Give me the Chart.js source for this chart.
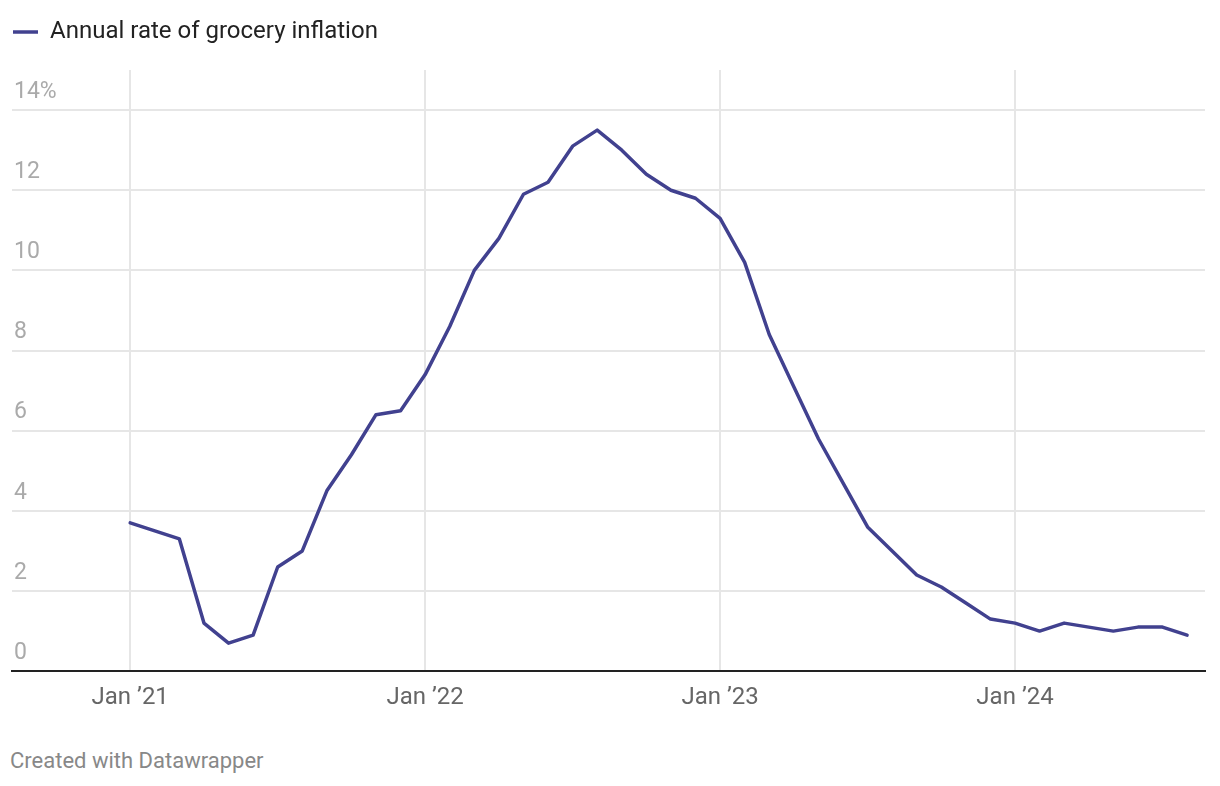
<!DOCTYPE html>
<html>
<head>
<meta charset="utf-8">
<script src="https://cdn.jsdelivr.net/npm/chart.js@4.4.1/dist/chart.umd.min.js"></script>
<style>
  body { margin: 0; background: #fff; font-family: Roboto, sans-serif; }
  #wrap { position: relative; width: 1220px; height: 732px; }
  #footer { position: absolute; left: 10px; top: 748px; font-size: 22px; color: #888; }
</style>
</head>
<body>
<div id="wrap"><canvas id="chart"></canvas></div>
<div id="footer">Created with Datawrapper</div>
<script>
// monthly observations, Jan 2021 - Aug 2024
const months = [
  '2021-01','2021-02','2021-03','2021-04','2021-05','2021-06','2021-07','2021-08','2021-09','2021-10','2021-11','2021-12',
  '2022-01','2022-02','2022-03','2022-04','2022-05','2022-06','2022-07','2022-08','2022-09','2022-10','2022-11','2022-12',
  '2023-01','2023-02','2023-03','2023-04','2023-05','2023-06','2023-07','2023-08','2023-09','2023-10','2023-11','2023-12',
  '2024-01','2024-02','2024-03','2024-04','2024-05','2024-06','2024-07','2024-08'
];
const groceryInflation = [
  3.7, 3.5, 3.3, 1.2, 0.7, 0.9, 2.6, 3.0, 4.5, 5.4, 6.4, 6.5,
  7.4, 8.6, 10.0, 10.8, 11.9, 12.2, 13.1, 13.5, 13.0, 12.4, 12.0, 11.8,
  11.3, 10.2, 8.4, 7.1, 5.8, 4.7, 3.6, 3.0, 2.4, 2.1, 1.7, 1.3,
  1.2, 1.0, 1.2, 1.1, 1.0, 1.1, 1.1, 0.9
];
const xTickMonths = ['2021-01', '2022-01', '2023-01', '2024-01'];
const xTickLabels = ['Jan \u201921', 'Jan \u201922', 'Jan \u201923', 'Jan \u201924'];
const yTicks = [0, 2, 4, 6, 8, 10, 12, 14];

const lineColor = '#41418f';

// extra room between legend and plot
const legendGap = {
    id: 'legendGap',
    beforeInit(chart) {
        const origFit = chart.legend.fit;
        chart.legend.fit = function() {
            origFit.bind(chart.legend)();
            this.height += 16;
        };
    }
};

new Chart(document.getElementById('chart'), {
    type: 'line',
    data: {
        datasets: [{
            label: 'Annual rate of grocery inflation',
            data: groceryInflation.map((v, i) => ({ x: i, y: v })),
            borderColor: lineColor,
            backgroundColor: lineColor,
            borderWidth: 3.5,
            borderCapStyle: 'round',
            borderJoinStyle: 'round',
            pointRadius: 0,
            pointStyle: 'line',
            tension: 0
        }]
    },
    options: {
        responsive: true,
        maintainAspectRatio: false,
        animation: false,
        layout: { padding: { left: 8, right: 15, top: 15, bottom: 8 } },
        plugins: {
            legend: {
                position: 'top',
                align: 'start',
                labels: {
                    usePointStyle: true,
                    pointStyleWidth: 25,
                    padding: 5,
                    color: '#222',
                    font: { family: 'Roboto', size: 24 }
                }
            },
            tooltip: { enabled: false }
        },
        scales: {
            x: {
                type: 'linear',
                min: -4.81,
                max: 43.73,
                afterBuildTicks: axis => {
                    axis.ticks = xTickMonths.map(m => ({ value: months.indexOf(m) }));
                },
                ticks: {
                    color: '#666',
                    padding: 12,
                    maxRotation: 0,
                    font: { family: 'Roboto', size: 24 },
                    callback: v => xTickLabels[xTickMonths.indexOf(months[v])]
                },
                grid: { color: '#e6e6e6', lineWidth: 2, drawTicks: false },
                border: { display: true, color: '#222', width: 2 }
            },
            y: {
                min: 0,
                max: 15,
                afterBuildTicks: axis => {
                    axis.ticks = yTicks.map(v => ({ value: v }));
                },
                ticks: {
                    mirror: true,
                    padding: 2,
                    labelOffset: -18,
                    color: '#aaa',
                    font: { family: 'Roboto', size: 23 },
                    callback: v => v === 14 ? v + '%' : v
                },
                grid: {
                    color: ctx => ctx.tick && ctx.tick.value === 0 ? 'rgba(0,0,0,0)' : '#e6e6e6',
                    lineWidth: 2,
                    drawTicks: false
                },
                border: { display: false }
            }
        }
    },
    plugins: [legendGap]
});
</script>
</body>
</html>
